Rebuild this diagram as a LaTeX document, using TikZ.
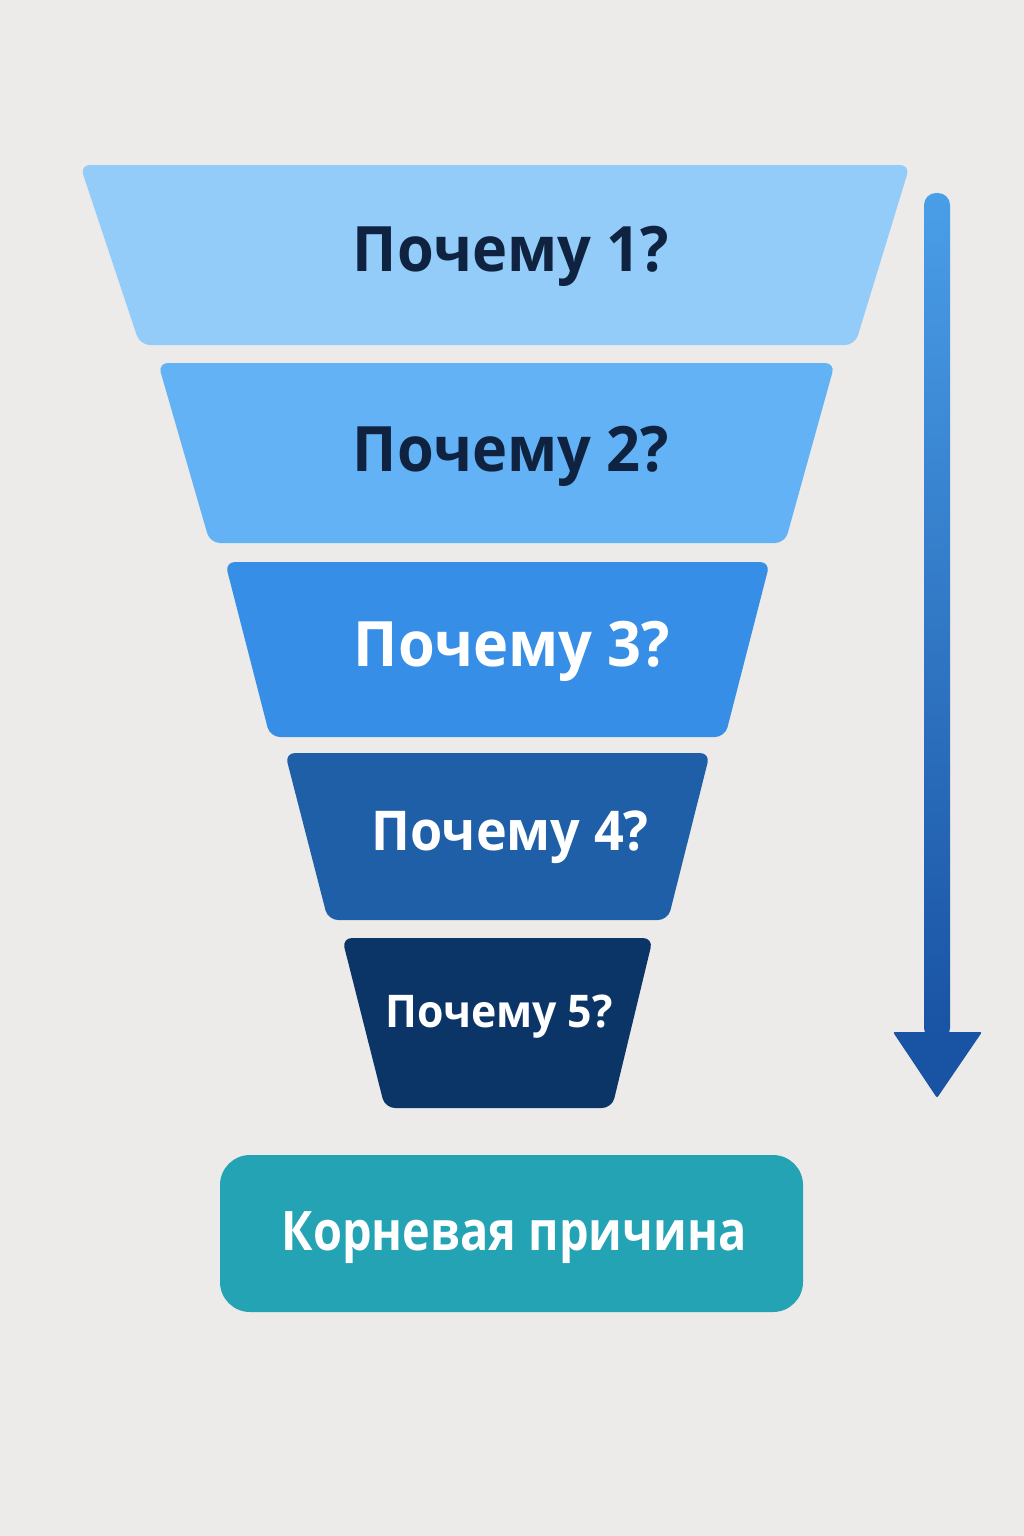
\documentclass[tikz,border=0pt]{standalone}
\usepackage{fontspec}
\setmainfont{Open Sans}
\newfontfamily\whyfont{Open Sans}[FakeStretch=0.95]
\newfontfamily\rootfont{Open Sans}[FakeStretch=0.86]
\usepackage{xcolor}
\usetikzlibrary{arrows.meta}

\definecolor{bgGray}{HTML}{ECEBE9}
\definecolor{whyA}{HTML}{93CBF9}
\definecolor{whyB}{HTML}{64B2F6}
\definecolor{whyC}{HTML}{368EE6}
\definecolor{whyD}{HTML}{1F5FA8}
\definecolor{whyE}{HTML}{0B3566}
\definecolor{rootTeal}{HTML}{23A3B3}
\definecolor{textNavy}{HTML}{0F2341}
\definecolor{arrowTop}{HTML}{4A9EE8}
\definecolor{arrowBot}{HTML}{1953A3}

\tikzset{
  layer/.style={rounded corners=0.1cm},
  whytext/.style={inner sep=0pt, anchor=center}
}

\begin{document}
\begin{tikzpicture}[x=0.01cm, y=-0.01cm]
        % background
        \fill[bgGray] (0,0) rectangle (1024,1536);
        \useasboundingbox (0,0) rectangle (1024,1536);

        % funnel layers
        \fill[whyA, layer] (80,165) -- (910,165) -- (855,345) -- (140,345) -- cycle;
        \fill[whyB, layer] (158,363) -- (835,363) -- (785,543) -- (210,543) -- cycle;
        \fill[whyC, layer] (225,562) -- (770,562) -- (725,737) -- (270,737) -- cycle;
        \fill[whyD, layer] (285,753) -- (710,753) -- (668,920) -- (328,920) -- cycle;
        \fill[whyE, layer] (342,938) -- (653,938) -- (612,1108) -- (385,1108) -- cycle;

        \node[whytext, textNavy, font=\whyfont\fontsize{17.8}{21}\selectfont\bfseries] (why1) at (511,256) {Почему 1?};
        \node[whytext, textNavy, font=\whyfont\fontsize{17.8}{21}\selectfont\bfseries] (why2) at (511,456) {Почему 2?};
        \node[whytext, white, font=\whyfont\fontsize{17.8}{21}\selectfont\bfseries] (why3) at (512,651) {Почему 3?};
        \node[whytext, white, font=\whyfont\fontsize{15.6}{19}\selectfont\bfseries] (why4) at (510,837) {Почему 4?};
        \node[whytext, white, font=\whyfont\fontsize{12.8}{16}\selectfont\bfseries] (why5) at (499,1017) {Почему 5?};

        % root cause
        \fill[rootTeal, rounded corners=0.3cm] (220,1155) rectangle (803,1312);
        \node[whytext, white, font=\rootfont\fontsize{15.5}{19}\selectfont\bfseries] (root) at (514,1238) {Корневая причина};

        % arrow
        \coordinate (arrStart) at (937,200);
        \coordinate (arrEnd) at (937,1098);
        \shade[top color=arrowTop, bottom color=arrowBot, rounded corners=0.12cm]
            (924,193) rectangle (950,1040);
        \fill[arrowBot, rounded corners=0.02cm] (893,1032) -- (982,1032) -- (arrEnd) -- cycle;
    \end{tikzpicture}
\end{document}
